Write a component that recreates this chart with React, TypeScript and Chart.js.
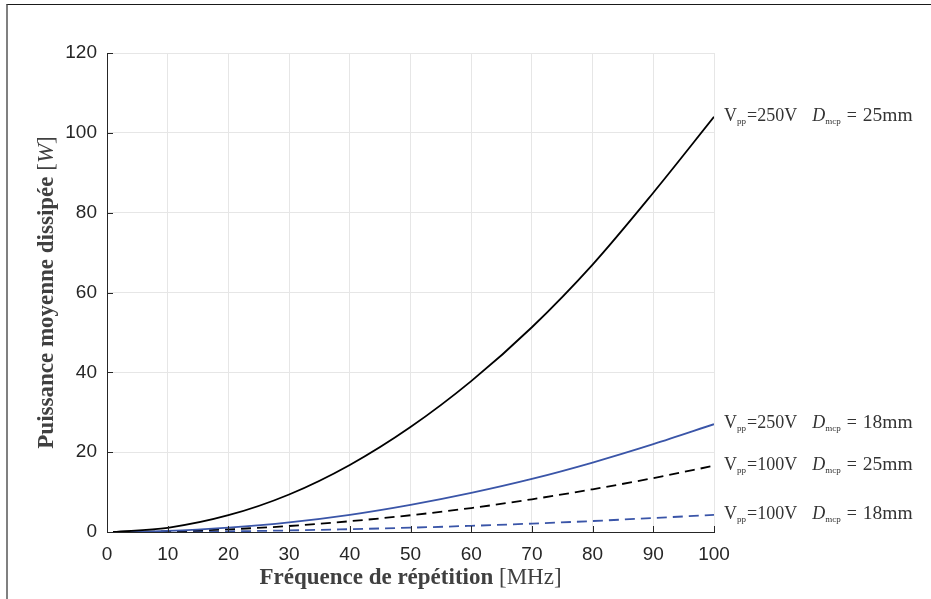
import React, { useEffect, useRef } from "react";
import { Chart, registerables } from "chart.js";
Chart.register(...registerables);

// Fréquence de répétition [MHz]
const freqMHz = [1, 10, 20, 30, 40, 50, 60, 70, 80, 90, 100];
// Puissance moyenne dissipée [W]
const p250V25mm = [0.01, 1.05, 4.2, 9.4, 16.8, 26.3, 37.8, 51.3, 67.0, 85.0, 104.0];
const p250V18mm = [0.0, 0.27, 1.1, 2.4, 4.3, 6.8, 9.8, 13.3, 17.4, 22.0, 27.0];
const p100V25mm = [0.0, 0.17, 0.67, 1.5, 2.7, 4.2, 6.0, 8.2, 10.7, 13.5, 16.6];
const p100V18mm = [0.0, 0.04, 0.17, 0.39, 0.7, 1.08, 1.55, 2.1, 2.75, 3.5, 4.3];

const vppLabels = ["250V", "250V", "100V", "100V"];
const dmcpLabels = ["25mm", "18mm", "25mm", "18mm"];

const xTickValues = [0, 10, 20, 30, 40, 50, 60, 70, 80, 90, 100];
const yTickValues = [0, 20, 40, 60, 80, 100, 120];

const BLUE = "#3a55a8";
const SERIF = "'Liberation Serif', 'DejaVu Serif', serif";
const SANS = "'Liberation Sans', Arial, sans-serif";

function toPoints(ys: number[]) {
  return freqMHz.map((x, i) => ({ x, y: ys[i] }));
}

const annotationPlugin = {
  id: "matlabDecor",
  afterDraw(chart: any) {
    const ctx = chart.ctx as CanvasRenderingContext2D;
    const area = chart.chartArea;
    const xs = chart.scales.x;
    const ys = chart.scales.y;
    ctx.save();
    // inside tick marks
    ctx.strokeStyle = "#262626";
    ctx.lineWidth = 1;
    ctx.beginPath();
    xTickValues.forEach((v) => {
      const px = Math.round(xs.getPixelForValue(v)) + 0.5;
      ctx.moveTo(px, area.bottom);
      ctx.lineTo(px, area.bottom - 6);
    });
    yTickValues.forEach((v) => {
      const py = Math.round(ys.getPixelForValue(v)) + 0.5;
      ctx.moveTo(area.left, py);
      ctx.lineTo(area.left + 6, py);
    });
    ctx.stroke();

    // curve annotations
    const ends = chart.data.datasets.map((d: any) => d.data[d.data.length - 1].y);
    ctx.fillStyle = "#333333";
    ctx.textBaseline = "alphabetic";
    ends.forEach((v: number, i: number) => {
      const cy = ys.getPixelForValue(v) - 2;
      const base = cy + 6;
      let x = area.right + 10;
      const big = `18px ${SERIF}`;
      const big2 = `19.5px ${SERIF}`;
      const small = `9px ${SERIF}`;
      const ital = `italic 18px ${SERIF}`;
      ctx.font = big;
      ctx.fillText("V", x, base);
      x += ctx.measureText("V").width;
      ctx.font = small;
      ctx.fillText("pp", x, base + 3);
      x += ctx.measureText("pp").width + 1;
      ctx.font = big;
      const t1 = "=" + vppLabels[i];
      ctx.fillText(t1, x, base);
      x += ctx.measureText(t1).width + 15;
      ctx.font = ital;
      ctx.fillText("D", x, base);
      x += ctx.measureText("D").width;
      ctx.font = small;
      ctx.fillText("mcp", x, base + 3);
      x += ctx.measureText("mcp").width + 6;
      ctx.font = big;
      ctx.fillText("=", x, base);
      x += ctx.measureText("=").width + 6;
      ctx.font = big2;
      ctx.fillText(dmcpLabels[i], x, base);
    });

    // axis titles
    ctx.fillStyle = "#404040";
    const tb = `bold 23px ${SERIF}`;
    const tr = `23px ${SERIF}`;
    const ti = `italic 23px ${SERIF}`;
    const drawTitle = (parts: [string, string][], cx: number, cy: number, rot: number) => {
      ctx.save();
      ctx.translate(cx, cy);
      ctx.rotate(rot);
      let total = 0;
      parts.forEach(([t, f]) => {
        ctx.font = f;
        total += ctx.measureText(t).width;
      });
      let x = -total / 2;
      ctx.textBaseline = "middle";
      parts.forEach(([t, f]) => {
        ctx.font = f;
        ctx.fillText(t, x, 0);
        x += ctx.measureText(t).width;
      });
      ctx.restore();
    };
    drawTitle(
      [["Fréquence de répétition", tb], [" [MHz]", tr]],
      (area.left + area.right) / 2,
      578,
      0
    );
    drawTitle(
      [["Puissance moyenne dissipée", tb], [" [", tr], ["W", ti], ["]", tr]],
      47,
      (area.top + area.bottom) / 2,
      -Math.PI / 2
    );
    ctx.restore();
  },
};

export default function App() {
  const canvasRef = useRef<HTMLCanvasElement | null>(null);

  useEffect(() => {
    const canvas = canvasRef.current;
    if (!canvas) return;
    const common = {
      borderWidth: 1.8,
      pointRadius: 0,
      cubicInterpolationMode: "monotone" as const,
      fill: false,
    };
    const chart = new Chart(canvas, {
      type: "line",
      data: {
        datasets: [
          { ...common, label: "250V 25mm", data: toPoints(p250V25mm), borderColor: "#000000" },
          { ...common, label: "250V 18mm", data: toPoints(p250V18mm), borderColor: BLUE },
          { ...common, label: "100V 25mm", data: toPoints(p100V25mm), borderColor: "#000000", borderDash: [10, 6] },
          { ...common, label: "100V 18mm", data: toPoints(p100V18mm), borderColor: BLUE, borderDash: [10, 6] },
        ],
      },
      options: {
        animation: false,
        responsive: false,
        maintainAspectRatio: false,
        layout: { padding: { left: 0, right: 217, top: 53, bottom: 0 } },
        plugins: { legend: { display: false }, tooltip: { enabled: false }, title: { display: false } },
        scales: {
          x: {
            type: "linear",
            min: 0,
            max: 100,
            afterFit: (s: any) => { s.height = 67; },
            afterBuildTicks: (s: any) => { s.ticks = xTickValues.map((v) => ({ value: v })); },
            ticks: { color: "#262626", font: { family: SANS, size: 19 }, padding: 11, maxRotation: 0 },
            grid: { color: "#e6e6e6", drawTicks: false, lineWidth: 1 },
            border: { display: true, color: "#262626", width: 1 },
          },
          y: {
            type: "linear",
            min: 0,
            max: 120,
            afterFit: (s: any) => { s.width = 107; },
            afterBuildTicks: (s: any) => { s.ticks = yTickValues.map((v) => ({ value: v })); },
            ticks: { color: "#262626", font: { family: SANS, size: 19 }, padding: 10 },
            grid: { color: "#e6e6e6", drawTicks: false, lineWidth: 1 },
            border: { display: true, color: "#262626", width: 1 },
          },
        },
      },
      plugins: [annotationPlugin],
    });
    return () => chart.destroy();
  }, []);

  return (
    <div style={{ position: "fixed", left: 0, top: 0, width: 931, height: 599, background: "#ffffff" }}>
      <canvas ref={canvasRef} width={931} height={599} style={{ position: "absolute", left: 0, top: 0 }} />
      <div style={{ position: "absolute", left: 6, top: 4, width: 925, height: 595, borderTop: "1.5px solid #1a1a1a", borderLeft: "2px solid #808080", boxSizing: "border-box", pointerEvents: "none" }} />
    </div>
  );
}
